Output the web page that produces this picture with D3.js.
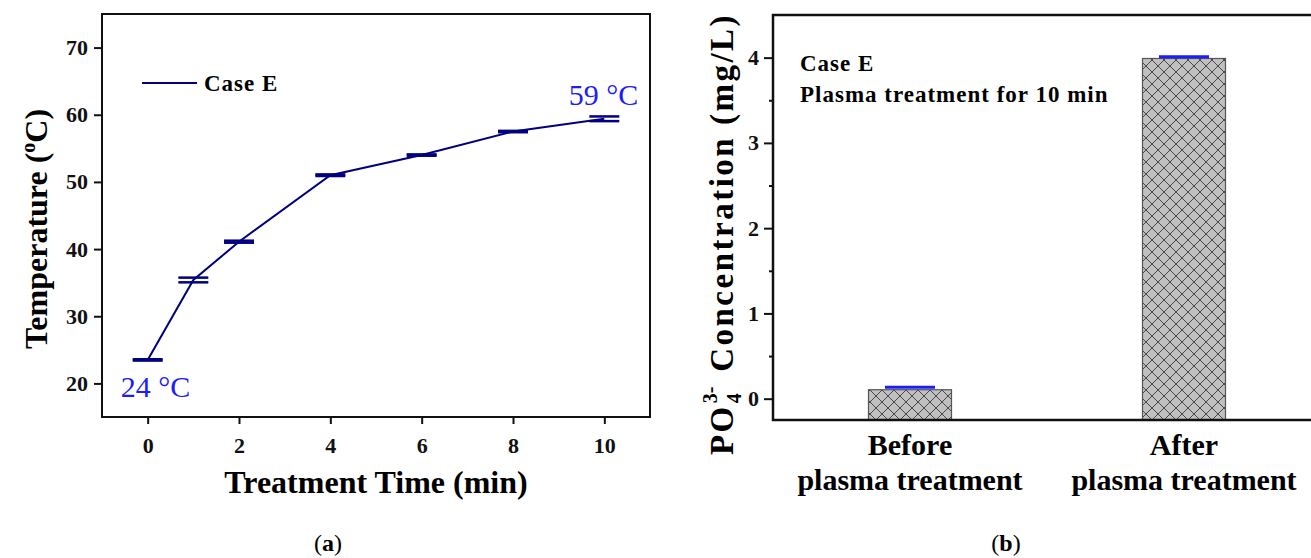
<!DOCTYPE html>
<html>
  <head>
    <meta charset="utf-8">
    <title>Temperature and PO4 concentration</title>
    <script src="https://cdn.jsdelivr.net/npm/d3@7"></script>
    <style>
      body { margin: 0; background: #fff; }
      svg { font-family: "Liberation Serif", "Times New Roman", serif; }
      .axis text { font-weight: bold; fill: #111; }
      .axis line { stroke: #111; stroke-width: 2; }
    </style>
  </head>

  <body>
    <svg id="chart" width="1311" height="558">
      <defs>
        <pattern id="hatch" width="12" height="12" patternUnits="userSpaceOnUse">
          <rect width="12" height="12" fill="#c0c0c0"></rect>
          <path d="M0,0L12,12M12,0L0,12" stroke="#3a3a3a" stroke-width="0.9"></path>
        </pattern>
      </defs>
      <g id="left"></g>
      <g id="right"></g>
    </svg>

    <script>
      // data, panel (a)
      times = [0, 1, 2, 4, 6, 8, 10];
      temps = [23.5, 35.4, 41.1, 51.0, 54.0, 57.5, 59.4];
      tempErr = [0.1, 0.35, 0.15, 0.12, 0.1, 0.1, 0.35];
      timeTicks = [0, 2, 4, 6, 8, 10];
      tempTicks = [20, 30, 40, 50, 60, 70];

      // data, panel (b)
      cats = ["Before", "After"];
      conc = [0.105, 3.99];
      concErr = [0.03, 0.02];
      concTicks = [0, 1, 2, 3, 4];
      concMinor = [0.5, 1.5, 2.5, 3.5];

      navy = "#000080";
      blue = "#1c1cff";
      chart = d3.select("#chart");

      // ---------- panel (a) ----------
      left = d3.select("#left");

      x = d3.scaleLinear().domain([-1, 11]).range([102, 650]);
      y = d3.scaleLinear().domain([15, 75]).range([417, 14]);

      left.append("g")
          .attr("class", "axis")
          .attr("transform", "translate(0,417)")
          .call(d3.axisBottom(x).tickValues(timeTicks).tickSize(7).tickPadding(13))
          .attr("font-family", null)
          .style("font-size", "22px")
          .call(g => g.select(".domain").remove());

      left.append("g")
          .attr("class", "axis")
          .attr("transform", "translate(102,0)")
          .call(d3.axisLeft(y).tickValues(tempTicks).tickSize(8).tickPadding(6))
          .attr("font-family", null)
          .style("font-size", "22px")
          .call(g => g.select(".domain").remove());

      left.append("rect")
          .attr("x", 102).attr("y", 14)
          .attr("width", 548).attr("height", 403)
          .attr("fill", "none").attr("stroke", "#111").attr("stroke-width", 2);

      linePath = d3.line()
          .x((d, i) => x(times[i]))
          .y(d => y(d));

      left.append("path")
          .attr("d", linePath(temps))
          .attr("fill", "none")
          .attr("stroke", navy)
          .attr("stroke-width", 2);

      // error bar caps
      caps = [];
      temps.forEach((t, i) => {
        caps.push({ t: times[i], v: t + tempErr[i] });
        caps.push({ t: times[i], v: t - tempErr[i] });
      });
      left.selectAll(".cap")
          .data(caps)
          .join("line")
          .attr("class", "cap")
          .attr("x1", d => x(d.t) - 15)
          .attr("x2", d => x(d.t) + 15)
          .attr("y1", d => y(d.v))
          .attr("y2", d => y(d.v))
          .attr("stroke", navy)
          .attr("stroke-width", 2.5);

      // legend
      left.append("line")
          .attr("x1", 142).attr("x2", 197)
          .attr("y1", 83).attr("y2", 83)
          .attr("stroke", navy).attr("stroke-width", 2);
      left.append("text")
          .attr("x", 204).attr("y", 91)
          .style("font-size", "23px").style("font-weight", "bold")
          .style("letter-spacing", "1px")
          .text("Case E");

      // temperature labels
      left.append("text")
          .attr("x", x(times[0]) - 27)
          .attr("y", y(temps[0]) + 37)
          .attr("fill", blue)
          .style("font-size", "30px")
          .text("24 °C");
      left.append("text")
          .attr("x", x(times[6]) + 34)
          .attr("y", y(temps[6]) - 14)
          .attr("text-anchor", "end")
          .attr("fill", blue)
          .style("font-size", "30px")
          .text("59 °C");

      // axis titles
      left.append("text")
          .attr("x", 376).attr("y", 493)
          .attr("text-anchor", "middle")
          .style("font-size", "32px").style("font-weight", "bold")
          .text("Treatment Time (min)");

      yTitle = left.append("text")
          .attr("transform", "translate(47,229) rotate(-90)")
          .attr("text-anchor", "middle")
          .style("font-size", "32px").style("font-weight", "bold");
      yTitle.append("tspan").text("Temperature (");
      yTitle.append("tspan").attr("dy", -12).style("font-size", "20px").text("o");
      yTitle.append("tspan").attr("dy", 12).text("C)");

      left.append("text")
          .attr("x", 328).attr("y", 551)
          .attr("text-anchor", "middle")
          .style("font-size", "24px")
          .html("(<tspan font-weight='bold'>a</tspan>)");

      // ---------- panel (b) ----------
      right = d3.select("#right");

      xb = d3.scalePoint().domain(cats).range([773, 1321]).padding(0.5);
      yb = d3.scaleLinear().domain([-0.25, 4.5]).range([420, 15]);
      barW = 83;

      right.append("g")
          .attr("class", "axis")
          .attr("transform", "translate(773,0)")
          .call(d3.axisLeft(yb).tickValues(concTicks).tickFormat(d3.format("d")).tickSize(9).tickPadding(5))
          .attr("font-family", null)
          .style("font-size", "22px")
          .call(g => g.select(".domain").remove());

      right.append("g")
          .attr("class", "axis")
          .attr("transform", "translate(773,0)")
          .call(d3.axisLeft(yb).tickValues(concMinor).tickSize(4).tickFormat(""))
          .call(g => g.select(".domain").remove());

      right.selectAll(".bar")
          .data(conc)
          .join("rect")
          .attr("class", "bar")
          .attr("x", (d, i) => xb(cats[i]) - barW / 2)
          .attr("y", d => yb(d))
          .attr("width", barW)
          .attr("height", d => yb(-0.25) - yb(d))
          .attr("fill", "url(#hatch)")
          .attr("stroke", "#555")
          .attr("stroke-width", 1.2);

      right.selectAll(".ecap")
          .data(conc)
          .join("line")
          .attr("class", "ecap")
          .attr("x1", (d, i) => xb(cats[i]) - 25)
          .attr("x2", (d, i) => xb(cats[i]) + 25)
          .attr("y1", (d, i) => yb(d + concErr[i]))
          .attr("y2", (d, i) => yb(d + concErr[i]))
          .attr("stroke", blue)
          .attr("stroke-width", 3);

      // frame (the right edge falls outside the picture)
      frame = d3.path();
      frame.moveTo(1321, 15);
      frame.lineTo(773, 15);
      frame.lineTo(773, 420);
      frame.lineTo(1321, 420);
      right.append("path")
          .attr("d", frame.toString())
          .attr("fill", "none").attr("stroke", "#111").attr("stroke-width", 2.5);

      // category labels
      catLabels = right.selectAll(".cat")
          .data(cats)
          .join("text")
          .attr("class", "cat")
          .attr("text-anchor", "middle")
          .style("font-size", "30px").style("font-weight", "bold");
      catLabels.append("tspan")
          .attr("x", d => xb(d)).attr("y", 455)
          .text(d => d);
      catLabels.append("tspan")
          .attr("x", d => xb(d)).attr("y", 490)
          .text("plasma treatment");

      right.append("text")
          .attr("x", 800).attr("y", 71)
          .style("font-size", "23px").style("font-weight", "bold")
          .style("letter-spacing", "1px")
          .text("Case E");
      right.append("text")
          .attr("x", 800).attr("y", 102)
          .style("font-size", "23px").style("font-weight", "bold")
          .style("letter-spacing", "1px")
          .text("Plasma treatment for 10 min");

      bTitle = right.append("text")
          .attr("transform", "translate(733,234) rotate(-90)")
          .attr("text-anchor", "middle")
          .style("font-size", "33px").style("font-weight", "bold")
          .style("letter-spacing", "2.5px");
      bTitle.append("tspan").text("PO");
      bTitle.append("tspan").attr("dx", 1).attr("dy", 8)
          .style("font-size", "20px").style("letter-spacing", "0px").text("4");
      bTitle.append("tspan").attr("dx", -10).attr("dy", -24)
          .style("font-size", "20px").style("letter-spacing", "0px").text("3-");
      bTitle.append("tspan").attr("dx", 4).attr("dy", 16).text(" Concentration (mg/L)");

      right.append("text")
          .attr("x", 1006).attr("y", 551)
          .attr("text-anchor", "middle")
          .style("font-size", "24px")
          .html("(<tspan font-weight='bold'>b</tspan>)");
    </script>
  </body>
</html>
